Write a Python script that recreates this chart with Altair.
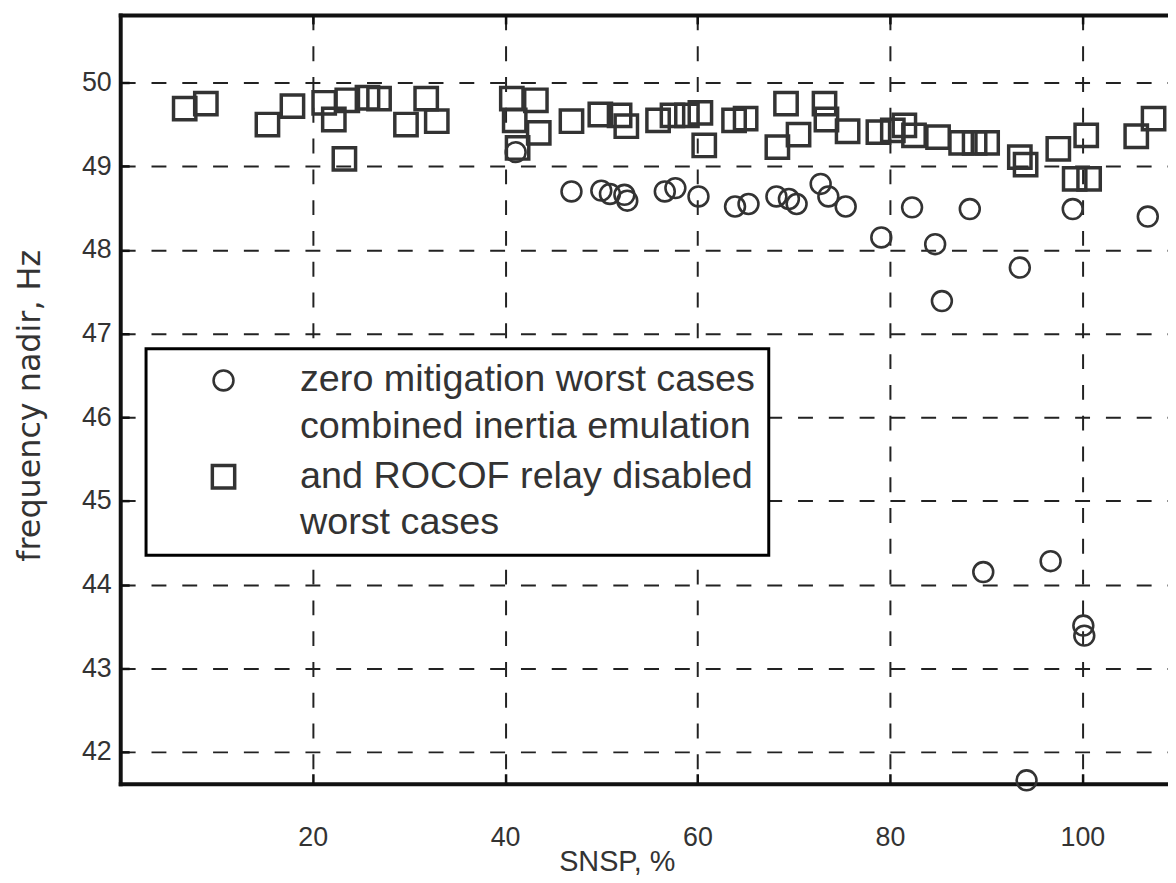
import altair as alt
import pandas as pd

# ---- data ----
series_names = [
    "zero mitigation worst cases",
    "combined inertia emulation and ROCOF relay disabled worst cases",
]

square_x = [6.7, 8.9, 15.3, 17.9, 21.2, 22.2, 23.3, 23.6, 25.7, 26.9, 29.7, 31.8, 32.9,
            40.7, 41.0, 41.3, 43.2, 43.5, 46.9, 49.9, 51.9, 52.6, 55.9, 57.4, 58.9, 60.3,
            60.7, 63.8, 65.0, 68.3, 69.2, 70.5, 73.2, 73.4, 75.6, 78.8, 80.3, 81.5, 82.5,
            85.0, 87.4, 88.8, 90.1, 93.5, 94.1, 97.5, 100.4, 99.2, 100.7, 105.6, 107.4]
square_y = [49.69, 49.75, 49.50, 49.72, 49.76, 49.56, 49.09, 49.79, 49.82, 49.81, 49.50,
            49.81, 49.54, 49.81, 49.55, 49.22, 49.79, 49.40, 49.54, 49.62, 49.61, 49.48,
            49.55, 49.61, 49.61, 49.64, 49.25, 49.55, 49.57, 49.23, 49.75, 49.38, 49.75,
            49.56, 49.42, 49.41, 49.43, 49.49, 49.37, 49.35, 49.28, 49.28, 49.28, 49.11,
            49.02, 49.21, 49.37, 48.85, 48.85, 49.36, 49.57]

circle_x = [41.1, 46.9, 50.0, 50.9, 52.4, 52.7, 56.6, 57.7, 60.1, 63.9, 65.3, 68.2, 69.5,
            70.3, 72.8, 73.6, 75.4, 79.1, 82.3, 84.7, 85.4, 88.3, 93.5, 99.0, 106.8, 89.7,
            96.7, 100.1, 100.2, 94.2]
circle_y = [49.17, 48.70, 48.71, 48.67, 48.66, 48.59, 48.70, 48.74, 48.64, 48.52, 48.55,
            48.64, 48.61, 48.55, 48.79, 48.64, 48.52, 48.15, 48.51, 48.07, 47.39, 48.49,
            47.79, 48.49, 48.40, 44.15, 44.28, 43.51, 43.39, 41.66]

x_ticks = [20, 40, 60, 80, 100]
y_ticks = [42, 43, 44, 45, 46, 47, 48, 49, 50]

df = pd.DataFrame({
    "snsp": square_x + circle_x,
    "nadir": square_y + circle_y,
    "series": [series_names[1]] * len(square_x) + [series_names[0]] * len(circle_x),
})

xs = alt.Scale(domain=[0, 108.9], nice=False, zero=False)
ys = alt.Scale(domain=[41.62, 50.81], nice=False, zero=False)

FONT = "Liberation Sans"
TXT = "#333333"
INK = "#111111"
grid_dash = [15, 16]

main_x_axis = alt.Axis(
    orient="bottom", values=x_ticks, ticks=False, tickSize=0,
    domain=True, domainColor=INK, domainWidth=4, domainCap="square",
    grid=True, gridColor="#222222", gridWidth=2, gridDash=grid_dash,
    labelFontSize=27, labelPadding=41, labelColor=TXT, labelFont=FONT,
    title="SNSP, %", titleFontSize=29, titleFontWeight="normal", titleColor=TXT,
    titleFont=FONT, titleX=500, titleY=78, titleBaseline="middle", titleAlign="center",
)
main_y_axis = alt.Axis(
    orient="left", values=y_ticks, ticks=False, tickSize=0,
    domain=True, domainColor=INK, domainWidth=4, domainCap="square",
    grid=True, gridColor="#222222", gridWidth=2, gridDash=grid_dash,
    labelFontSize=27, labelPadding=9, labelColor=TXT, labelFont=FONT,
    title="frequency nadir, Hz", titleFontSize=32, titleFontWeight="normal",
    titleColor=TXT, titleFont="DejaVu Sans", titleX=-91, titleY=393, titleAngle=270,
    titleBaseline="middle", titleAlign="center",
)

# Legend: the long label is wrapped over 3 lines; the first wrapped line is shown
# under the first entry so that the square symbol sits beside the middle line.
legend = alt.Legend(
    title=None, orient="none", legendX=26, legendY=336,
    labelFontSize=38, labelFont=FONT, labelColor=TXT, labelLimit=1000,
    labelOffset=58, symbolOffset=46, padding=13, rowPadding=12,
    strokeColor="black", fillColor="white", symbolStrokeWidth=3,
    symbolStrokeColor="#333333", labelBaseline="middle",
    labelExpr="datum.label == 'zero mitigation worst cases' ? "
              "['zero mitigation worst cases', 'combined inertia emulation'] : "
              "['and ROCOF relay disabled', 'worst cases']",
)

points = alt.Chart(df).mark_point(filled=False, color="#333333", opacity=1).encode(
    x=alt.X("snsp:Q", scale=xs, axis=main_x_axis),
    y=alt.Y("nadir:Q", scale=ys, axis=main_y_axis),
    shape=alt.Shape("series:N", scale=alt.Scale(domain=series_names, range=["circle", "square"]),
                    legend=legend),
    size=alt.Size("series:N", scale=alt.Scale(domain=series_names, range=[400, 506]),
                  legend=legend),
    strokeWidth=alt.StrokeWidth("series:N", scale=alt.Scale(domain=series_names, range=[2.6, 3.5]),
                                legend=None),
)

# inward ticks on bottom and left
tick_layer = alt.Chart(df).mark_point(opacity=0).encode(
    x=alt.X("snsp:Q", scale=xs, axis=alt.Axis(
        orient="bottom", offset=-10, values=x_ticks, ticks=True, tickSize=10, tickWidth=2.5,
        tickColor=INK, domain=False, labels=False, grid=False, title=None)),
    y=alt.Y("nadir:Q", scale=ys, axis=alt.Axis(
        orient="left", offset=-9, values=y_ticks, ticks=True, tickSize=9, tickWidth=2.5,
        tickColor=INK, domain=False, labels=False, grid=False, title=None)),
)

# top border
top_border = alt.Chart(df).mark_point(opacity=0).encode(
    x=alt.X("snsp:Q", scale=xs, axis=alt.Axis(
        orient="top", values=x_ticks, ticks=False, domain=True, domainColor=INK,
        domainWidth=4, domainCap="square", labels=False, grid=False, title=None)),
    y=alt.Y("nadir:Q", scale=ys, axis=None),
)

# inward ticks on top
top_ticks = alt.Chart(df).mark_point(opacity=0).encode(
    x=alt.X("snsp:Q", scale=xs, axis=alt.Axis(
        orient="top", offset=-9, values=x_ticks, ticks=True, tickSize=9, tickWidth=2.5,
        tickColor=INK, domain=False, labels=False, grid=False, title=None)),
    y=alt.Y("nadir:Q", scale=ys, axis=None),
)

chart = alt.layer(points, tick_layer, top_border, top_ticks).resolve_axis(
    x="independent", y="independent"
).properties(
    width=1055, height=774,
    padding={"left": 113, "top": 4, "right": 0, "bottom": 96},
    autosize=alt.AutoSizeParams(type="none"),
).configure_view(strokeWidth=0).configure(
    font=FONT, style={"guide-label": {"lineHeight": 47}}
).configure_legend(strokeWidth=3)

chart.save("out.html", embed_options={"renderer": "svg", "actions": False})
